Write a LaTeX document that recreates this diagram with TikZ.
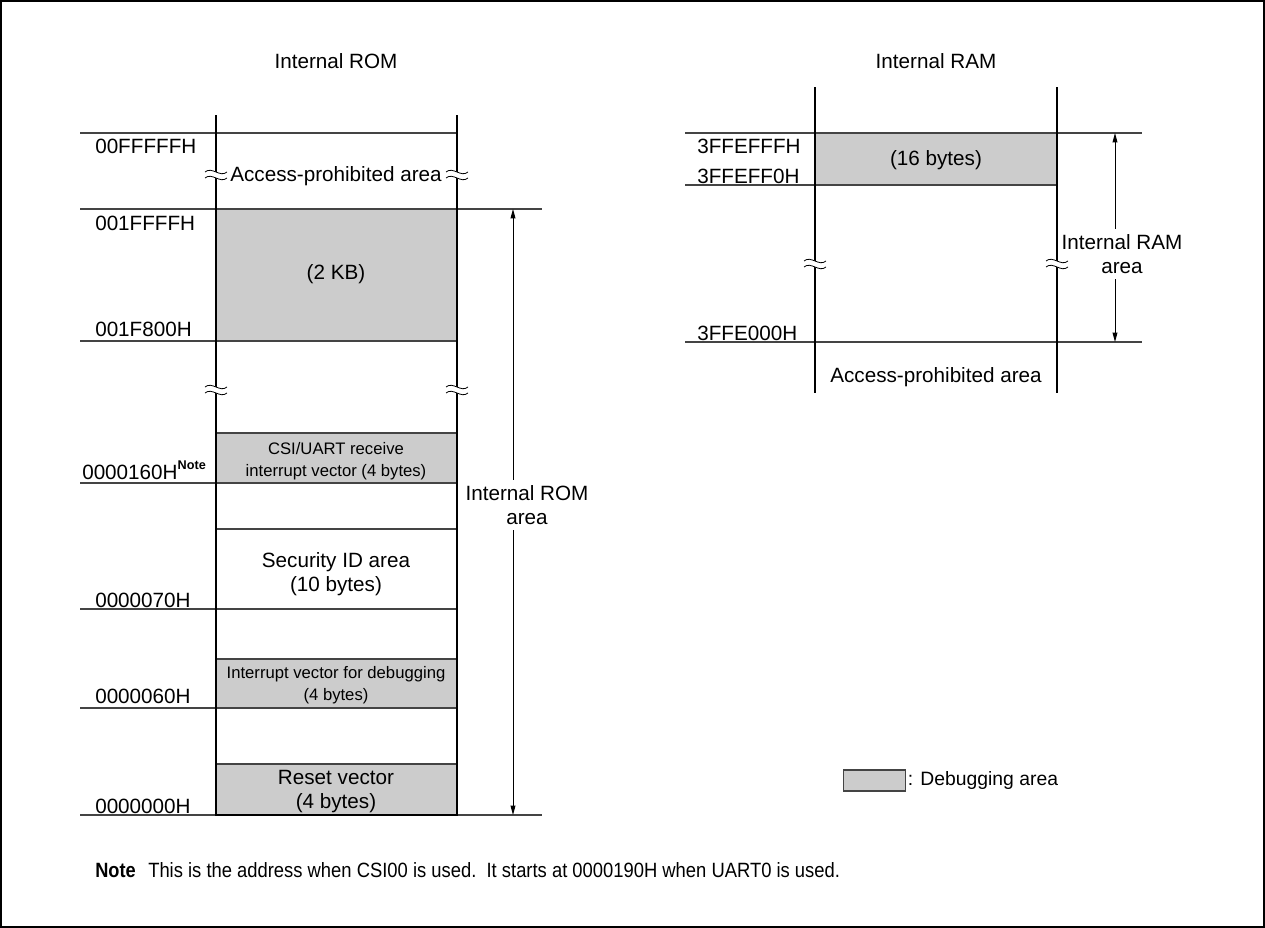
\documentclass[tikz,border=0pt]{standalone}
\usepackage{fontspec}
\setmainfont{Liberation Sans}
\usepackage{tikz}
\usetikzlibrary{arrows.meta,positioning}
\definecolor{dbggray}{HTML}{CCCCCC}
\definecolor{rulegray}{HTML}{444444}
\tikzset{
  wall/.style={line width=2.2pt, draw=black},
  addrline/.style={line width=0.9pt, draw=rulegray},
  dbgbox/.style={fill=dbggray, draw=rulegray, line width=1.2pt},
  addr/.style={anchor=base west, inner sep=0pt},
  areatext/.style={align=center, inner sep=0pt},
  smalltext/.style={align=center, inner sep=0pt, font=\fontsize{12.5}{16.5}\selectfont},
  dimlabel/.style={align=center, inner xsep=0pt, inner ysep=4pt},
  dimarrow/.style={-{Triangle[length=7pt,width=3.6pt]}, line width=0.7pt, draw=black},
  brk/.pic={
    \fill[white] (-3,-4.2) -- (3,-1.8) -- (3,4.2) -- (-3,1.8) -- cycle;
    \draw[line width=0.6pt] (-11,-3) .. controls (-4,-9) and (4,3) .. (11,-3);
    \draw[line width=0.6pt] (-11,3) .. controls (-4,-3) and (4,9) .. (11,3);
  }
}

\begin{document}
\begin{tikzpicture}[x=0.75pt, y=-0.75pt, font=\fontsize{15.5}{18}\selectfont]
  \useasboundingbox (0,0) rectangle (1265,928);
  \draw[line width=0.8pt] (1,1) rectangle (1264,927);

  \node[anchor=base] (romtitle) at (336,68) {Internal ROM};
  \node[anchor=base] (ramtitle) at (936,68) {Internal RAM};

  % internal ROM
  \draw[dbgbox] (216,209) rectangle (457,341);
  \draw[dbgbox] (216,433) rectangle (457,483);
  \draw[dbgbox] (216,659) rectangle (457,708);
  \draw[dbgbox] (216,764) rectangle (457,815);
  \draw[addrline] (80,133) -- (457,133);
  \draw[addrline] (80,209) -- (542,209);
  \draw[addrline] (80,341) -- (457,341);
  \draw[addrline] (80,483) -- (216,483);
  \draw[addrline] (216,529) -- (457,529);
  \draw[addrline] (80,609) -- (457,609);
  \draw[addrline] (80,708) -- (216,708);
  \draw[addrline] (80,815) -- (542,815);
  \draw[wall, line join=miter] (216,115) -- (216,815) -- (457,815) -- (457,115);
  \pic at (216,175) {brk};
  \pic at (457,175) {brk};
  \pic at (216,390) {brk};
  \pic at (457,390) {brk};

  \node[anchor=base] (romnoacc) at (336,181) {Access-prohibited area};
  \node (kb2) at (336,274) {(2 KB)};
  \node[smalltext] (csivec) at (336,461) {CSI/UART receive\\interrupt vector (4 bytes)};
  \node[areatext] (secid) at (336,574) {Security ID area\\(10 bytes)};
  \node[smalltext] (dbgvec) at (336,685) {Interrupt vector for debugging\\(4 bytes)};
  \node[areatext] (resetvec) at (336,792) {Reset vector\\(4 bytes)};

  \node[addr] (addrtop) at (95,153) {00FFFFFH};
  \node[addr] (addrkbhi) at (95,230) {001FFFFH};
  \node[addr] (addrkblo) at (95,336) {001F800H};
  \node[addr] (addrcsi) at (82,479) {0000160H\raisebox{7pt}{\fontsize{9.5}{10}\selectfont\bfseries Note}};
  \node[addr] (addrsec) at (95,607) {0000070H};
  \node[addr] (addrdbg) at (95,703) {0000060H};
  \node[addr] (addrrst) at (95,813) {0000000H};

  \coordinate (romtop) at (513,209);
  \coordinate (rombot) at (513,815);
  \node[dimlabel] (romarea) at (527,505) {Internal ROM\\area};
  \draw[dimarrow] (romarea.north -| romtop) -- (romtop);
  \draw[dimarrow] (romarea.south -| rombot) -- (rombot);

  % internal RAM
  \draw[dbgbox] (815,133) rectangle (1057,185);
  \draw[addrline] (685,133) -- (1142,133);
  \draw[addrline] (685,185) -- (815,185);
  \draw[addrline] (685,342) -- (1142,342);
  \draw[wall] (815,87) -- (815,393);
  \draw[wall] (1057,87) -- (1057,393);
  \pic at (815,264) {brk};
  \pic at (1057,264) {brk};

  \node (bytes16) at (936,160) {(16 bytes)};
  \node[anchor=base] (ramnoacc) at (936,382) {Access-prohibited area};
  \node[addr] (ramhi) at (697,153) {3FFEFFFH};
  \node[addr] (rammid) at (697,183) {3FFEFF0H};
  \node[addr] (ramlo) at (697,340) {3FFE000H};

  \coordinate (ramtop) at (1115,133);
  \coordinate (rambot) at (1115,342);
  \node[dimlabel] (ramarea) at (1122,254) {Internal RAM\\area};
  \draw[dimarrow] (ramarea.north -| ramtop) -- (ramtop);
  \draw[dimarrow] (ramarea.south -| rambot) -- (rambot);

  % legend and note
  \node[dbgbox, line width=1pt, minimum width=46.5pt, minimum height=15.75pt, inner sep=0pt, anchor=west] (legbox) at (843,780.5) {};
  \node[right=1pt of legbox, inner sep=0pt, font=\fontsize{14.5}{17}\selectfont] (legtext) {: Debugging area};

  \node[anchor=base west, inner sep=0pt] (notehead) at (95,877) {\scalebox{0.88}[1]{\textbf{Note}}};
  \node[anchor=base west, inner sep=0pt] (notetext) at (148,877) {\scalebox{0.89}[1]{This is the address when CSI00 is used.\ \ It starts at 0000190H when UART0 is used.}};
\end{tikzpicture}
\end{document}
